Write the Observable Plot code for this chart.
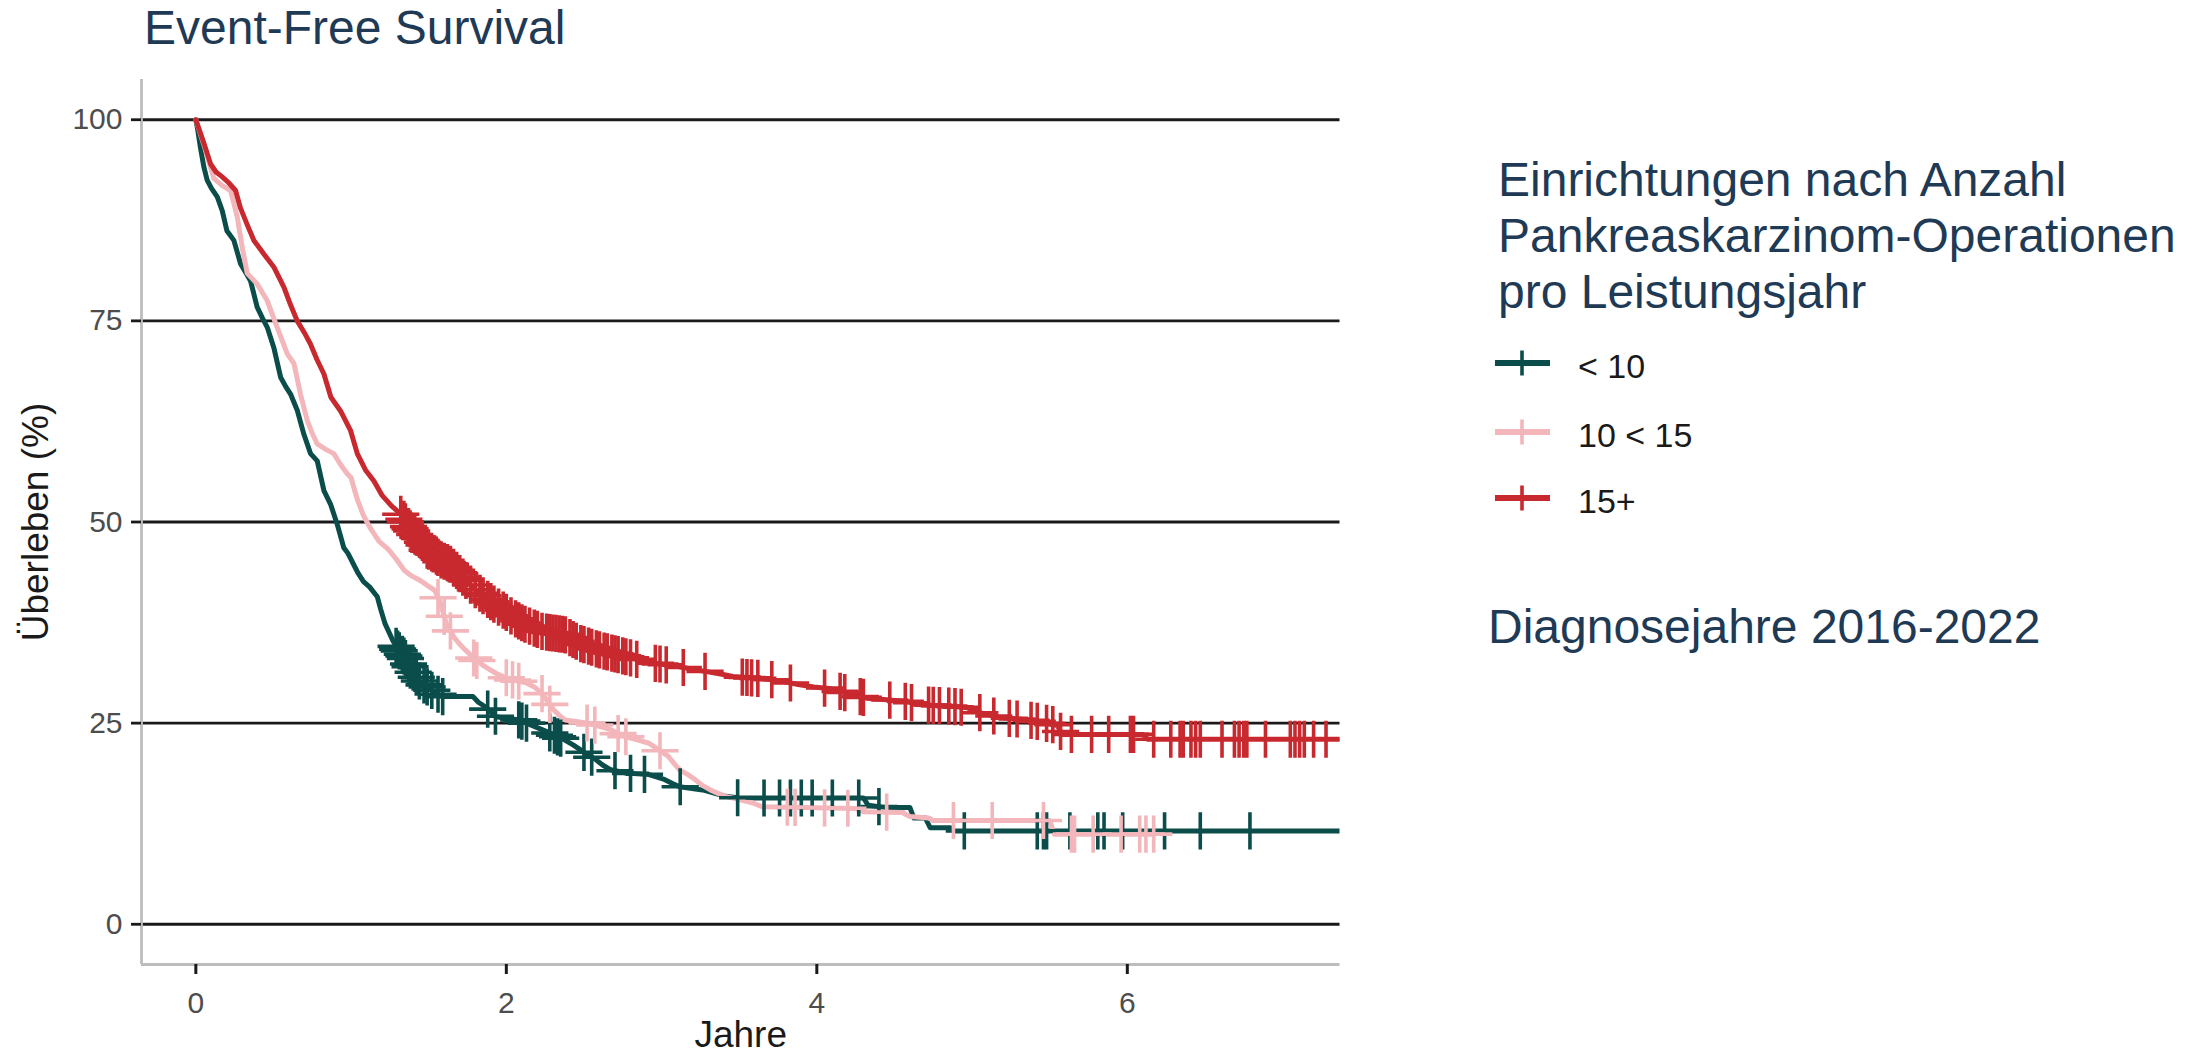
<!DOCTYPE html>
<html><head><meta charset="utf-8">
<script src="https://cdn.jsdelivr.net/npm/d3@7"></script>
<script src="https://cdn.jsdelivr.net/npm/@observablehq/plot@0.6"></script>
<style>
html,body{margin:0;padding:0;background:#fff;}
#wrap{position:relative;width:2203px;height:1057px;overflow:hidden;font-family:"Liberation Sans",Arial,sans-serif;}
#chart{position:absolute;left:0;top:0;}
#overlay{position:absolute;left:0;top:0;pointer-events:none;}
</style></head><body>
<div id="wrap"><div id="chart"></div><svg id="overlay" width="2203" height="1057"></svg></div>
<script>
// ---------- data ----------
const groups = ["< 10", "10 < 15", "15+"];
const colors = ["#0b4d4b", "#f2b6bb", "#c8292f"];
const xTicks = [0, 2, 4, 6];
const yTicks = [0, 25, 50, 75, 100];

// Kaplan-Meier curves: [years, survival %]
const curveLt10 = [[0,100],[0.01,99.0],[0.03,96.5],[0.052,94.1],[0.073,92.5],[0.1,91.5],[0.138,90.4],[0.17,88.7],[0.2,86.2],[0.245,85.0],[0.288,82.1],[0.352,80.0],[0.395,76.7],[0.43,75.3],[0.46,74.2],[0.502,71.7],[0.546,68.0],[0.58,66.8],[0.61,65.9],[0.653,63.9],[0.696,60.9],[0.739,58.5],[0.782,57.6],[0.825,53.9],[0.868,52.2],[0.911,49.7],[0.953,46.8],[0.98,46.1],[1.046,43.6],[1.08,42.6],[1.12,41.9],[1.169,40.7],[1.19,39.2],[1.218,37.4],[1.268,35.3],[1.3,34.2],[1.342,33.3],[1.38,32.0],[1.416,30.8],[1.45,30.0],[1.49,29.5],[1.54,28.8],[1.588,28.3],[1.785,28.3],[1.82,27.6],[1.859,27.1],[1.9,26.4],[1.933,25.8],[2.081,25.4],[2.13,25.0],[2.18,24.6],[2.23,24.2],[2.278,23.8],[2.33,23.3],[2.377,22.9],[2.43,22.3],[2.476,21.7],[2.52,21.1],[2.574,20.5],[2.62,19.8],[2.673,19.2],[2.771,18.8],[2.919,18.6],[3.018,18.0],[3.07,17.5],[3.116,17.1],[3.264,16.7],[3.412,15.9],[3.5,15.7],[4.3,15.7],[4.33,14.8],[4.45,14.5],[4.6,14.5],[4.625,13.2],[4.7,13.2],[4.73,12.0],[4.86,12.0],[4.88,11.6],[7.37,11.6]];
const curve10to15 = [[0,100],[0.05,97.0],[0.116,92.7],[0.17,91.8],[0.224,91.2],[0.267,87.9],[0.3,84.0],[0.331,80.9],[0.395,79.6],[0.46,77.5],[0.524,74.2],[0.589,70.9],[0.632,69.7],[0.674,65.9],[0.718,62.6],[0.75,61.0],[0.782,59.7],[0.84,59.0],[0.889,58.5],[0.93,57.2],[0.975,56.0],[1.0,55.5],[1.04,52.8],[1.08,50.8],[1.125,49.2],[1.18,47.6],[1.24,46.6],[1.29,45.4],[1.342,44.0],[1.39,43.3],[1.44,42.8],[1.5,42.0],[1.539,41.5],[1.576,39.9],[1.613,37.4],[1.662,35.7],[1.7,34.8],[1.736,34.1],[1.79,33.1],[1.835,32.4],[1.88,31.8],[1.933,31.2],[1.98,30.8],[2.032,30.4],[2.13,30.0],[2.18,29.5],[2.229,28.7],[2.27,27.6],[2.303,26.7],[2.34,26.0],[2.377,25.4],[2.45,25.2],[2.525,25.0],[2.6,24.6],[2.673,24.2],[2.72,23.7],[2.771,23.3],[2.85,22.9],[2.919,22.5],[2.98,21.7],[3.042,20.9],[3.08,20.0],[3.116,19.2],[3.17,18.6],[3.215,18.0],[3.26,17.3],[3.314,16.7],[3.36,16.3],[3.412,15.9],[3.5,15.5],[3.585,15.1],[3.65,14.6],[4.25,14.4],[4.3,14.0],[4.55,13.9],[4.6,13.4],[4.72,13.2],[4.75,12.9],[5.5,12.9],[5.53,11.2],[6.17,11.2]];
const curve15plus = [[0,100],[0.05,97.2],[0.095,94.5],[0.13,93.5],[0.17,92.9],[0.21,92.2],[0.256,91.2],[0.286,89.1],[0.33,87.0],[0.374,85.0],[0.438,83.3],[0.502,81.7],[0.567,79.2],[0.61,77.0],[0.653,75.0],[0.7,73.5],[0.739,72.1],[0.78,70.2],[0.825,68.4],[0.87,65.5],[0.932,63.8],[0.996,61.4],[1.04,58.5],[1.095,56.4],[1.147,55.1],[1.2,53.3],[1.26,52.0],[1.319,51.0],[1.36,49.7],[1.40,48.6],[1.45,47.8],[1.49,46.5],[1.533,46.0],[1.58,45.3],[1.637,44.8],[1.69,43.8],[1.736,42.8],[1.8,41.6],[1.859,40.7],[1.92,39.8],[1.983,39.0],[2.04,38.2],[2.106,37.4],[2.17,36.9],[2.229,36.4],[2.3,36.2],[2.377,36.0],[2.43,35.4],[2.476,34.9],[2.54,34.5],[2.6,34.1],[2.66,33.8],[2.722,33.5],[2.78,33.2],[2.845,32.9],[2.9,32.7],[2.968,32.4],[3.05,32.2],[3.116,32.0],[3.2,31.7],[3.29,31.4],[3.38,31.1],[3.46,30.8],[3.6,30.6],[3.71,30.4],[3.8,30.1],[3.88,29.8],[3.98,29.5],[4.08,29.3],[4.2,28.7],[4.32,28.1],[4.45,27.9],[4.57,27.7],[4.67,27.3],[4.86,27.1],[4.97,26.9],[5.05,26.3],[5.18,25.7],[5.3,25.5],[5.4,25.3],[5.55,24.7],[5.58,23.6],[6.1,23.6],[6.13,23.0],[7.37,23.0]];

// censoring times (years)
const censLt10 = [1.29,1.30,1.31,1.33,1.34,1.35,1.37,1.38,1.40,1.42,1.44,1.47,1.49,1.52,1.56,1.59,1.88,1.93,2.08,2.10,2.13,2.28,2.31,2.33,2.35,2.50,2.55,2.70,2.80,2.89,3.12,3.49,3.66,3.76,3.83,3.90,3.97,4.10,4.27,4.40,4.95,5.42,5.46,5.48,5.63,5.81,5.85,5.97,6.24,6.47,6.79];
const cens10to15 = [1.56,1.60,1.64,1.79,1.81,2.00,2.04,2.08,2.23,2.28,2.52,2.57,2.72,2.77,2.99,3.81,3.86,4.05,4.20,4.45,4.88,5.13,5.46,5.64,5.66,5.78,5.96,6.08,6.12,6.17];
const cens15plus = [1.32,1.34,1.35,1.37,1.38,1.39,1.41,1.43,1.44,1.46,1.47,1.49,1.50,1.52,1.53,1.55,1.56,1.58,1.60,1.62,1.64,1.66,1.68,1.70,1.72,1.74,1.77,1.80,1.83,1.85,1.88,1.90,1.92,1.95,1.98,2.00,2.03,2.06,2.08,2.10,2.12,2.15,2.18,2.20,2.23,2.26,2.28,2.30,2.32,2.34,2.36,2.38,2.41,2.43,2.45,2.48,2.50,2.53,2.55,2.58,2.60,2.63,2.65,2.68,2.70,2.72,2.75,2.77,2.80,2.84,2.96,2.99,3.03,3.14,3.28,3.52,3.55,3.58,3.62,3.71,3.83,4.05,4.15,4.18,4.28,4.30,4.47,4.57,4.61,4.72,4.75,4.79,4.85,4.89,4.93,5.05,5.14,5.24,5.29,5.38,5.42,5.48,5.52,5.57,5.64,5.77,5.88,6.02,6.04,6.17,6.28,6.34,6.36,6.41,6.44,6.47,6.61,6.69,6.72,6.75,6.77,6.89,7.05,7.08,7.11,7.14,7.20,7.28];

const titleText = "Event-Free Survival";
const legendTitle = ["Einrichtungen nach Anzahl", "Pankreaskarzinom-Operationen", "pro Leistungsjahr"];
const captionText = "Diagnosejahre 2016-2022";
const xLabel = "Jahre";
const yLabel = "Überleben (%)";

// ---------- build tables ----------
const curves = [curveLt10, curve10to15, curve15plus];
const censors = [censLt10, cens10to15, cens15plus];
function survAt(curve, t) {
  for (let i = 1; i < curve.length; i++) {
    const [t0, s0] = curve[i - 1], [t1, s1] = curve[i];
    if (t <= t1) return t1 === t0 ? s1 : s0 + (s1 - s0) * (t - t0) / (t1 - t0);
  }
  return curve[curve.length - 1][1];
}
const lineData = [];
curves.forEach((c, gi) => c.forEach(([t, s]) => lineData.push({g: groups[gi], t, s})));
const censData = [];
censors.forEach((cs, gi) => cs.forEach(t => censData.push({g: groups[gi], t, s: survAt(curves[gi], t)})));

// ---------- plot ----------
const W = 1400, H = 1057;
const FONT = "'Liberation Sans', Arial, sans-serif";
const plot = Plot.plot({
  width: W, height: H,
  marginLeft: 141, marginRight: W - 1339.5, marginTop: 79, marginBottom: H - 964,
  style: {fontFamily: FONT, fontSize: "30px", color: "#1a1a1a", background: "transparent", overflow: "visible"},
  x: {domain: [-0.35, 7.37], label: null},
  y: {domain: [-5, 105], label: null},
  color: {domain: groups, range: colors},
  marks: [
    Plot.ruleY(yTicks, {stroke: "#1a1a1a", strokeWidth: 2.8}),
    Plot.ruleX([-0.35], {stroke: "#bdbdbd", strokeWidth: 2.8}),
    Plot.ruleY([-5], {stroke: "#bdbdbd", strokeWidth: 2.8}),
    Plot.axisY({ticks: yTicks, tickSize: 10, tickPadding: 9, fontSize: 30, strokeWidth: 2.8, label: null}),
    Plot.axisX({ticks: xTicks, tickSize: 10, tickPadding: 17, fontSize: 30, strokeWidth: 3, label: null, tickFormat: d => String(d)}),
    Plot.line(lineData, {x: "t", y: "s", z: "g", stroke: "g", strokeWidth: 5, curve: "linear", clip: true}),
    Plot.dot(censData, {x: "t", y: "s", stroke: "g", symbol: "plus", r: 12, strokeWidth: 3.6, clip: true}),
    Plot.text([xLabel], {text: d => d, frameAnchor: "bottom", lineAnchor: "middle", textAnchor: "middle", dy: 71, fontSize: 37, fill: "#1a1a1a"}),
    Plot.text([yLabel], {text: d => d, frameAnchor: "left", lineAnchor: "middle", textAnchor: "middle", dx: -105, rotate: -90, fontSize: 37, fill: "#1a1a1a"})
  ]
});
document.getElementById("chart").appendChild(plot);
d3.select(plot).selectAll('g[aria-label="y-axis tick label"], g[aria-label="x-axis tick label"]').attr("fill", "#4d4d4d");

// ---------- title & legend ----------
const NAVY = "#1f3a55";
const ov = d3.select("#overlay").style("font-family", FONT);
ov.append("text").attr("x", 144).attr("y", 44).attr("font-size", 48).attr("fill", NAVY).text(titleText);
legendTitle.forEach((line, i) => {
  ov.append("text").attr("x", 1498).attr("y", 196 + i * 56).attr("font-size", 48).attr("fill", NAVY).text(line);
});
const keyY = [363, 432, 498];
groups.forEach((g, i) => {
  const y = keyY[i];
  ov.append("line").attr("x1", 1495).attr("x2", 1550).attr("y1", y).attr("y2", y).attr("stroke", colors[i]).attr("stroke-width", 6);
  ov.append("line").attr("x1", 1522).attr("x2", 1522).attr("y1", y - 12.5).attr("y2", y + 12.5).attr("stroke", colors[i]).attr("stroke-width", 3.6);
  ov.append("text").attr("x", 1578).attr("y", y + 15).attr("font-size", 34).attr("fill", "#1a1a1a").text(g);
});
ov.append("text").attr("x", 1488).attr("y", 643).attr("font-size", 48).attr("fill", NAVY).text(captionText);
</script>
</body></html>
